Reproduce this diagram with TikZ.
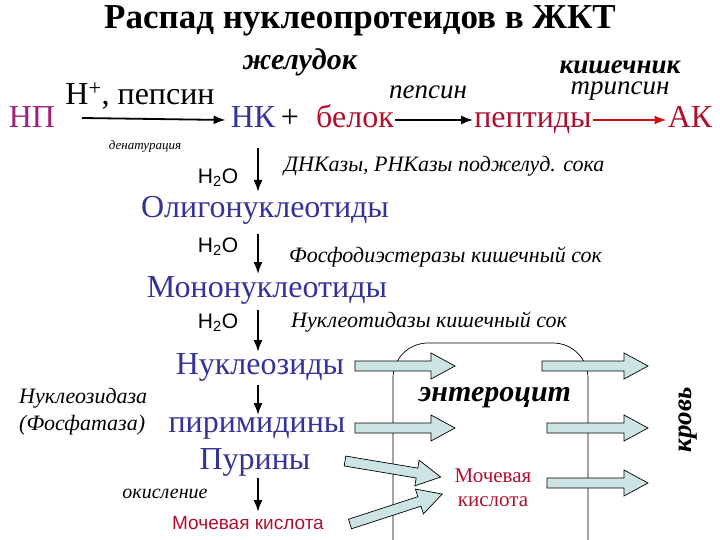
\documentclass[tikz,border=0pt]{standalone}
\usepackage{fontspec}
\setmainfont{Liberation Serif}
\newfontfamily\sansf{Liberation Sans}
\usetikzlibrary{arrows.meta}
\definecolor{npc}{HTML}{A0207A}
\definecolor{blu}{HTML}{333399}
\definecolor{rd}{HTML}{B01030}
\definecolor{ared}{HTML}{D01010}
\definecolor{afill}{HTML}{CCE4E4}
\tikzset{
 big/.style={font=\fontsize{32}{36}\selectfont, inner sep=1pt, text height=22pt, text depth=7pt},
 lab/.style={font=\fontsize{22}{26}\selectfont\itshape, anchor=west, inner sep=1pt},
 hto/.style={font=\sansf\fontsize{21}{24}\selectfont},
 ar/.style={-{Latex[length=12pt,width=9pt]}, line width=1.8pt},
 blk/.style={draw, fill=afill, line width=0.7pt},
}
\newcommand\barrow[4]{\begin{scope}[shift={(#1,#2)}, rotate=#3]
\draw[blk] (0,-5)--(#4-24,-5)--(#4-24,-13)--(#4,0)--(#4-24,13)--(#4-24,5)--(0,5)--cycle;
\end{scope}}
\begin{document}
\begin{tikzpicture}[x=1pt,y=-1pt]
\useasboundingbox (0,0) rectangle (720,540);
\node[font=\fontsize{35}{40}\selectfont\bfseries] (title) at (360,21) {Распад нуклеопротеидов в ЖКТ};
\node[font=\fontsize{30}{34}\selectfont\bfseries\itshape] (zh) at (300,62) {желудок};
\node[font=\fontsize{27}{30}\selectfont\bfseries\itshape] (ki) at (620,67) {кишечник};
\node[font=\fontsize{27}{30}\selectfont\itshape] (tr) at (620,91) {трипсин};
\node[big, text=npc] (np) at (32,120) {НП};
\node[big] (hp) at (140,97) {H\textsuperscript{+}, пепсин};
\node[font=\fontsize{13}{15}\selectfont\itshape] (den) at (145,146) {денатурация};
\node[big, text=blu] (nk) at (253,120) {НК};
\node[big] (plus) at (290,120) {+};
\node[big, text=rd] (bel) at (355,120) {белок};
\node[font=\fontsize{27}{30}\selectfont\itshape] (pep2) at (428,92) {пепсин};
\node[big, text=rd] (pept) at (533,120) {пептиды};
\node[big, text=rd] (ak) at (690,120) {АК};
\draw[ar] (82,118) -- ([xshift=-4pt]nk.west);
\draw[ar] (bel.east) -- (pept.west);
\draw[ar, ared] (pept.east) -- (ak.west);

\node[big, text=blu] (olig) at (265,210) {Олигонуклеотиды};
\node[big, text=blu] (mono) at (267,290) {Мононуклеотиды};
\node[big, text=blu] (nuc) at (260,367) {Нуклеозиды};
\node[big, text=blu] (pir) at (257,425) {пиримидины};
\node[big, text=blu] (pur) at (255,462) {Пурины};
\node[font=\sansf\fontsize{19}{22}\selectfont, text=rd] (uric) at (248,523) {Мочевая кислота};

\draw[ar] (258,148) -- (258,192);
\draw[ar] (258,234) -- (258,274);
\draw[ar] (258,310) -- (258,352);
\draw[ar] (258,385) -- (258,415);
\draw[ar] (258,478) -- (258,512);

\node[hto] (h1) at (218,178) {H\textsubscript{2}O};
\node[hto] (h2) at (218,247) {H\textsubscript{2}O};
\node[hto] (h3) at (218,323) {H\textsubscript{2}O};
\node[lab] (e1) at (283,166) {ДНКазы, РНКазы поджелуд. сока};
\node[lab] (e2) at (288,257) {Фосфодиэстеразы кишечный сок};
\node[lab] (e3) at (290,322) {Нуклеотидазы кишечный сок};
\node[lab] (e4) at (18,398) {Нуклеозидаза};
\node[lab] (e5) at (18,425) {(Фосфатаза)};
\node[font=\fontsize{20}{23}\selectfont\itshape] (ox) at (165,494) {окисление};

\draw[line width=0.7pt, rounded corners=35pt] (393,560) -- (393,343) -- (588,343) -- (588,560);
\node[font=\fontsize{30}{34}\selectfont\bfseries\itshape] (ent) at (495,398) {энтероцит};
\node[font=\fontsize{21}{24}\selectfont, text=rd, align=center] (uk) at (493,488) {Мочевая\\кислота};
\node[font=\fontsize{27}{30}\selectfont\bfseries\itshape, rotate=90] (kr) at (688,420) {кровь};

\barrow{355}{366}{0}{100}
\barrow{355}{428}{0}{100}
\barrow{345}{461}{-9.5}{97}
\barrow{350}{524}{18}{97}
\barrow{542}{366}{0}{106}
\barrow{547}{428}{0}{101}
\barrow{547}{483}{0}{101}
\end{tikzpicture}
\end{document}
